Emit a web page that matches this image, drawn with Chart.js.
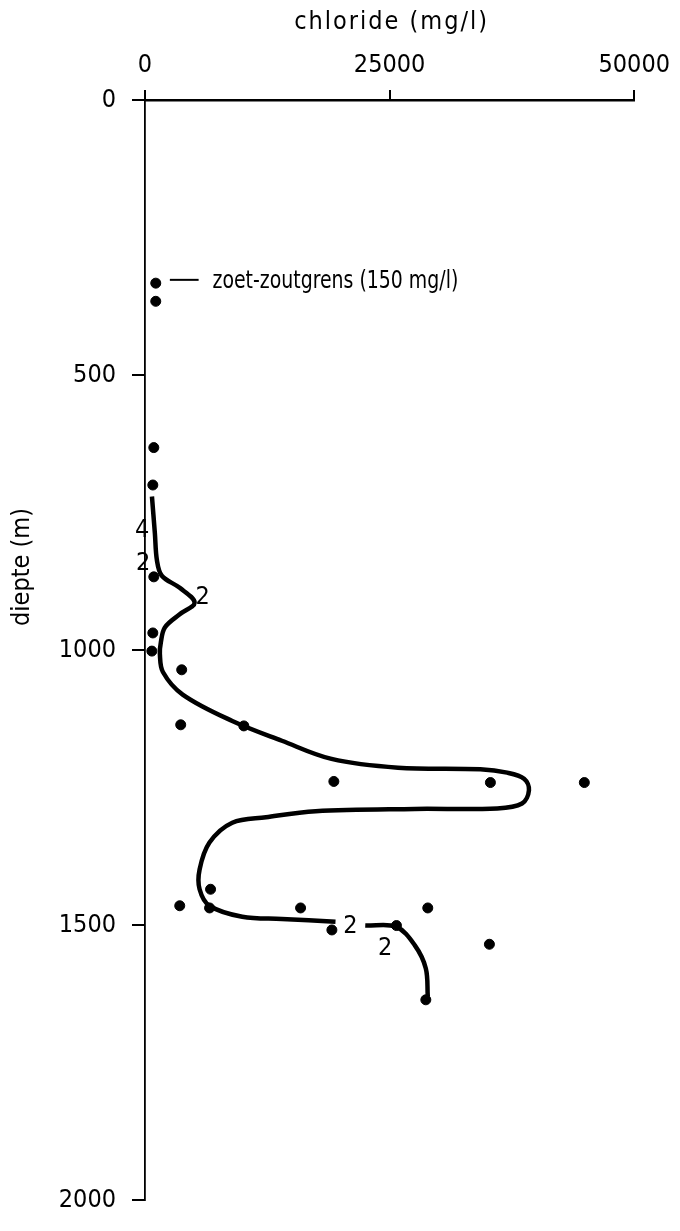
<!DOCTYPE html>
<html>
<head>
<meta charset="utf-8">
<script src="https://cdn.jsdelivr.net/npm/chart.js@4.4.1/dist/chart.umd.min.js"></script>
<style>
html, body { margin: 0; padding: 0; background: #fff; }
</style>
</head>
<body>
<canvas id="myChart" width="680" height="1231"></canvas>
<script>
// meetpunten: chloride (mg/l) tegen diepte (m)
var sampleChloride = [1100, 1100, 900, 800, 900, 800, 700, 3750, 3650, 10100, 19300, 35300, 44900, 6700, 3550, 6600, 15900, 28900, 19100, 25700, 35200, 28700];
var sampleDepth = [333, 366, 632, 700, 867, 969, 1002, 1036, 1136, 1138, 1239, 1241, 1241, 1435, 1465, 1469, 1469, 1469, 1509, 1501, 1535, 1636];

// getekende lijn (bovenste deel)
var line1Chloride = [710, 1010, 1220, 1720, 3550, 5070, 3550, 2030, 1620, 1520, 1830, 3850, 8920, 13990, 19060, 25860, 34270, 37010, 38740, 39240, 38530, 36000, 27580, 17440, 12370, 8920, 6590, 5580, 5580, 6590, 9940, 13990, 19470];
var line1Depth = [721, 788, 837, 865, 887, 914, 935, 959, 986, 1007, 1040, 1081, 1129, 1165, 1198, 1214, 1217, 1223, 1234, 1255, 1279, 1288, 1289, 1293, 1304, 1314, 1350, 1399, 1435, 1465, 1485, 1489, 1494];

// getekende lijn (onderste deel)
var line2Chloride = [22510, 25650, 27580, 28700, 28900];
var line2Depth = [1501, 1503, 1537, 1579, 1630];

var chlorideTicks = [0, 25000, 50000];
var depthTicks = [0, 500, 1000, 1500, 2000];

// losse cijfers bij de lijn
var noteTexts = ['4', '2', '2', '2', '2'];
var noteChloride = [-300, -200, 5880, 20990, 24540];
var noteDepth = [782, 842, 905, 1503, 1543];

var boundaryText = 'zoet-zoutgrens (150 mg/l)';
var boundaryDepth = 327;
var boundaryLine = [2540, 5480];
var boundaryTextChloride = 6900;

var FONT = "'DejaVu Sans Condensed', 'DejaVu Sans', sans-serif";

function toXY(xs, ys) {
    return xs.map(function (x, i) { return { x: x, y: ys[i] }; });
}

var notes = {
    id: 'notes',
    afterDatasetsDraw: function (chart) {
        var ctx = chart.ctx;
        var sx = chart.scales.x;
        var sy = chart.scales.y;
        ctx.save();
        ctx.fillStyle = '#000';
        ctx.strokeStyle = '#000';
        ctx.font = '25px ' + FONT;
        ctx.textAlign = 'center';
        ctx.textBaseline = 'middle';
        for (var i = 0; i < noteTexts.length; i++) {
            ctx.fillText(noteTexts[i], sx.getPixelForValue(noteChloride[i]), sy.getPixelForValue(noteDepth[i]));
        }
        // zoet-zoutgrens
        var by = sy.getPixelForValue(boundaryDepth);
        ctx.lineWidth = 2;
        ctx.beginPath();
        ctx.moveTo(sx.getPixelForValue(boundaryLine[0]), by);
        ctx.lineTo(sx.getPixelForValue(boundaryLine[1]), by);
        ctx.stroke();
        ctx.save();
        ctx.translate(sx.getPixelForValue(boundaryTextChloride), by + 2);
        ctx.scale(0.84, 1);
        ctx.textAlign = 'left';
        ctx.fillText(boundaryText, 0, 0);
        ctx.restore();
        // titel x-as
        ctx.save();
        ctx.letterSpacing = '2px';
        ctx.textAlign = 'center';
        ctx.fillText('chloride (mg/l)', (sx.left + sx.right) / 2 + 2, 22);
        ctx.restore();
        // titel y-as
        ctx.translate(22, 567);
        ctx.rotate(-Math.PI / 2);
        ctx.textAlign = 'center';
        ctx.fillText('diepte (m)', 0, 0);
        ctx.restore();
    }
};

window.addEventListener('load', function () {
    var ctx = document.getElementById('myChart').getContext('2d');
    new Chart(ctx, {
        type: 'scatter',
        data: {
            datasets: [
                {
                    label: 'metingen',
                    data: toXY(sampleChloride, sampleDepth),
                    backgroundColor: '#000',
                    borderColor: '#000',
                    pointRadius: 5,
                    pointHoverRadius: 5
                },
                {
                    label: 'lijn 1',
                    data: toXY(line1Chloride, line1Depth),
                    showLine: true,
                    borderColor: '#000',
                    borderWidth: 4.5,
                    pointRadius: 0,
                    tension: 0.35,
                    fill: false
                },
                {
                    label: 'lijn 2',
                    data: toXY(line2Chloride, line2Depth),
                    showLine: true,
                    borderColor: '#000',
                    borderWidth: 4.5,
                    pointRadius: 0,
                    tension: 0.35,
                    fill: false
                }
            ]
        },
        options: {
            responsive: false,
            animation: false,
            layout: { padding: { left: 0, top: 0, right: 38, bottom: 14 } },
            plugins: {
                legend: { display: false },
                tooltip: { enabled: false }
            },
            scales: {
                x: {
                    type: 'linear',
                    position: 'top',
                    min: 0,
                    max: 50000,
                    afterBuildTicks: function (s) { s.ticks = chlorideTicks.map(function (v) { return { value: v }; }); },
                    afterFit: function (s) { s.height = 100; },
                    ticks: {
                        color: '#000',
                        font: { family: FONT, size: 25 },
                        padding: 10,
                        maxRotation: 0,
                        callback: function (v) { return String(v); }
                    },
                    grid: { drawOnChartArea: false, tickLength: 10, color: '#000', lineWidth: 2 },
                    border: { display: true, color: '#000', width: 2.5 },
                    title: { display: false }
                },
                y: {
                    type: 'linear',
                    reverse: true,
                    min: 0,
                    max: 2000,
                    afterBuildTicks: function (s) { s.ticks = depthTicks.map(function (v) { return { value: v }; }); },
                    afterFit: function (s) { s.width = 145; },
                    ticks: {
                        color: '#000',
                        font: { family: FONT, size: 25 },
                        padding: 16,
                        callback: function (v) { return String(v); }
                    },
                    grid: { drawOnChartArea: false, tickLength: 13, color: '#000', lineWidth: 2 },
                    border: { display: true, color: '#000', width: 1.8 }
                }
            }
        },
        plugins: [notes]
    });
});
</script>
</body>
</html>
